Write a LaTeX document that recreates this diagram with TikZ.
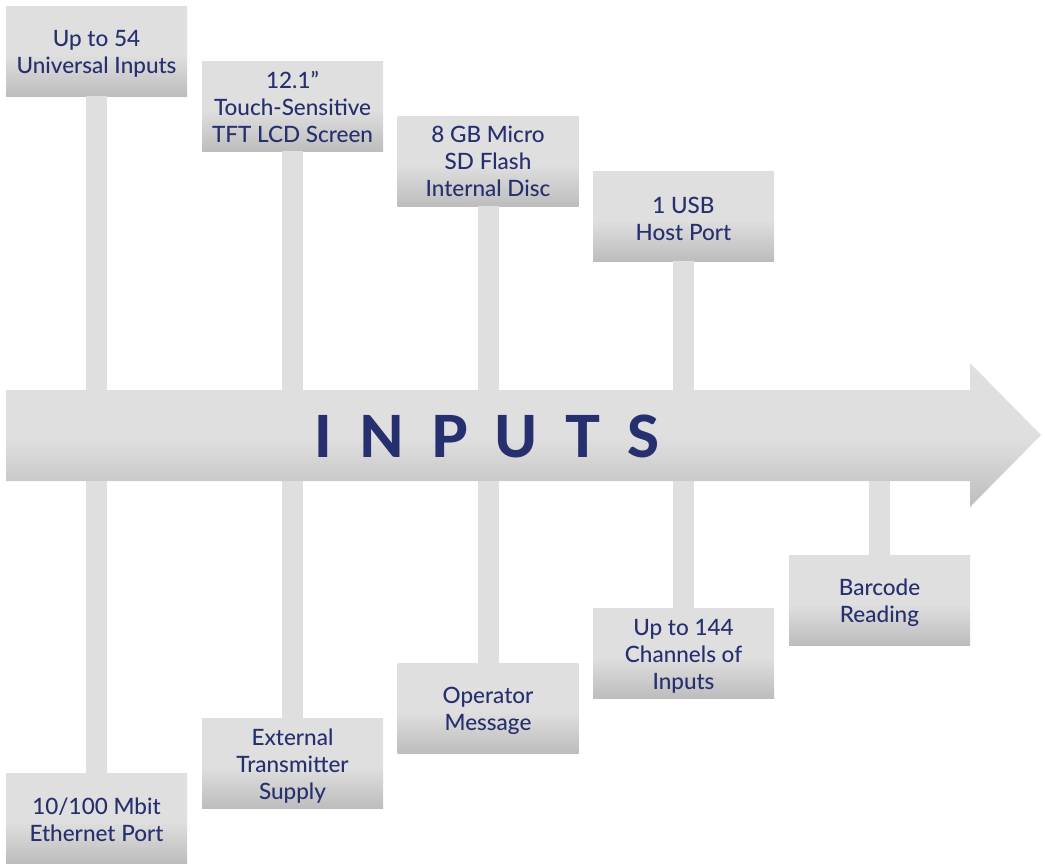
\documentclass[tikz,border=0pt]{standalone}
\usepackage{fontspec}
\setmainfont{Lato Medium}
\newfontfamily\bigfont{Lato Heavy}[LetterSpace=47]
\definecolor{glight}{HTML}{DFDFDF}
\definecolor{gdark}{HTML}{BDBDBD}
\definecolor{navy}{HTML}{27306F}
\pgfdeclareverticalshading{boxsh}{100bp}{color(0bp)=(gdark); color(25bp)=(gdark); color(48bp)=(glight); color(75bp)=(glight); color(100bp)=(glight)}
\pgfdeclareverticalshading{arrsh}{100bp}{color(0bp)=(gdark); color(25bp)=(gdark); color(49bp)=(glight); color(75bp)=(glight); color(100bp)=(glight)}
\tikzset{
  infobox/.style={shading=boxsh, minimum width=181pt, minimum height=90pt, inner sep=0pt},
  boxtext/.style={inner sep=0pt, align=center, text=navy, font=\fontsize{22.5}{27}\selectfont},
  stem/.style={draw=glight, line width=21pt},
}
\newcommand\infoitem[4]{%
  \node[infobox] (#1) at (#2) {};
  \node[boxtext, yshift=#4] (#1t) at (#1.center) {#3};}
\begin{document}
\begin{tikzpicture}[x=1pt,y=-1pt]
\useasboundingbox (0,0) rectangle (1045,863);
% arrow
\path[shading=arrsh] (6,390) -- (970,390) -- (970,363) -- (1041,435) -- (970,507) -- (970,481) -- (6,481) -- cycle;
\coordinate (atop) at (0,390);
\coordinate (abot) at (0,481);
\node[text=navy, font=\bigfont\fontsize{58}{60}\selectfont, inner sep=0pt] (inputs) at (487,436) {INPUTS};
% boxes
\infoitem{b1}{96.5,51}{Up to 54\\Universal Inputs}{-3pt}
\infoitem{b2}{292.5,106}{12.1”\\Touch-Sensitive\\TFT LCD Screen}{-1pt}
\infoitem{b3}{488,161}{8 GB Micro\\SD Flash\\Internal Disc}{0pt}
\infoitem{b4}{683.5,216}{1 USB\\Host Port}{-3pt}
\infoitem{c1}{96.5,818}{10/100 Mbit\\Ethernet Port}{-2pt}
\infoitem{c2}{292.5,763}{External\\Transmitter\\Supply}{-3pt}
\infoitem{c3}{488,708}{Operator\\Message}{-3pt}
\infoitem{c4}{683.5,653}{Up to 144\\Channels of\\Inputs}{-3pt}
\infoitem{c5}{879.5,600}{Barcode\\Reading}{-3pt}
% stems
\foreach \b in {b1,b2,b3,b4} \draw[stem] (\b.south) -- (\b.south |- atop);
\foreach \c in {c1,c2,c3,c4,c5} \draw[stem] (\c.north) -- (\c.north |- abot);
\end{tikzpicture}
\end{document}
